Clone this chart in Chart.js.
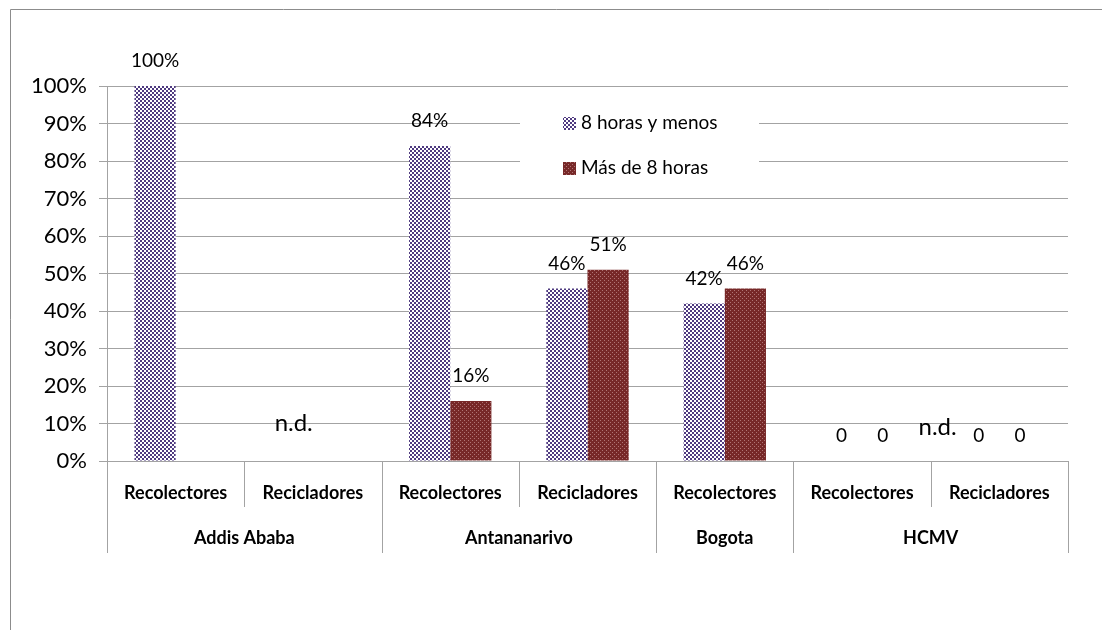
<!DOCTYPE html>
<html>
<head>
<meta charset="utf-8">
<script src="https://cdn.jsdelivr.net/npm/chart.js@4.4.0/dist/chart.umd.min.js"></script>
<style>
  body { margin: 0; background: #fff; }
  canvas { display: block; }
</style>
</head>
<body>
<canvas id="myChart" width="1102" height="630"></canvas>
<script>
var categories = ['Recolectores', 'Recicladores', 'Recolectores', 'Recicladores', 'Recolectores', 'Recolectores', 'Recicladores'];
var groups = ['Addis Ababa', 'Antananarivo', 'Bogota', 'HCMV'];
var groupSizes = [2, 2, 1, 2];

var seriesNames = ['8 horas y menos', 'Más de 8 horas'];
var menos8 = [100, null, 84, 46, 42, 0, 0];
var mas8 = [null, null, 16, 51, 46, 0, 0];

var yTicks = [0, 10, 20, 30, 40, 50, 60, 70, 80, 90, 100];

// "n.d." notes: where on the category axis and at which value
var noteTexts = ['n.d.', 'n.d.'];
var noteCats = [0.86, 5.55];
var noteValues = [10, 9];

var FONT = 'Lato, "DejaVu Sans", sans-serif';
var GRID = '#a3a3a3';

function makePattern(bg, fg, cells) {
    var c = document.createElement('canvas');
    c.width = 4;
    c.height = 4;
    var g = c.getContext('2d');
    g.fillStyle = bg;
    g.fillRect(0, 0, 4, 4);
    g.fillStyle = fg;
    for (var i = 0; i < cells.length; i++) {
        g.fillRect(cells[i][0], cells[i][1], cells[i][2], cells[i][2]);
    }
    return document.getElementById('myChart').getContext('2d').createPattern(c, 'repeat');
}

var purpleCheck = makePattern('#ffffff', '#4f3a80', [[0, 0, 2], [2, 2, 2]]);
var redDots = makePattern('#772828', '#b07474', [[0, 0, 1], [2, 2, 1]]);
var fills = [purpleCheck, redDots];

var extras = {
    id: 'extras',
    beforeDraw: function (chart) {
        var ctx = chart.ctx;
        ctx.save();
        ctx.strokeStyle = '#8c8c8c';
        ctx.lineWidth = 1;
        ctx.beginPath();
        ctx.moveTo(10.5, 630);
        ctx.lineTo(10.5, 9.5);
        ctx.lineTo(1102, 9.5);
        ctx.stroke();
        ctx.restore();
    },
    afterDatasetsDraw: function (chart) {
        var ctx = chart.ctx;
        var x = chart.scales.x;
        var y = chart.scales.y;
        var bottom = chart.chartArea.bottom;
        ctx.save();

        // category dividers under the axis
        ctx.strokeStyle = GRID;
        ctx.lineWidth = 1;
        var groupEdges = [0];
        var acc = 0;
        for (var g = 0; g < groupSizes.length; g++) {
            acc += groupSizes[g];
            groupEdges.push(acc);
        }
        for (var i = 0; i <= categories.length; i++) {
            var px = Math.round(x.getPixelForValue(i - 0.5)) + 0.5;
            var long = groupEdges.indexOf(i) >= 0;
            ctx.beginPath();
            ctx.moveTo(px, bottom);
            ctx.lineTo(px, bottom + (long ? 92 : 46));
            ctx.stroke();
        }

        // group labels
        ctx.fillStyle = '#000';
        ctx.font = 'bold 18px ' + FONT;
        ctx.textAlign = 'center';
        ctx.textBaseline = 'middle';
        for (var k = 0; k < groups.length; k++) {
            var mid = (groupEdges[k] + groupEdges[k + 1]) / 2 - 0.5;
            ctx.fillText(groups[k], x.getPixelForValue(mid), bottom + 77);
        }

        // data labels
        ctx.font = '19px ' + FONT;
        chart.data.datasets.forEach(function (ds, di) {
            var meta = chart.getDatasetMeta(di);
            meta.data.forEach(function (bar, j) {
                var v = ds.data[j];
                if (v === null) return;
                var txt = v === 0 ? '0' : v + '%';
                ctx.fillText(txt, bar.x, bar.y - 25);
            });
        });

        // n.d. notes
        ctx.font = '24px ' + FONT;
        for (var n = 0; n < noteTexts.length; n++) {
            ctx.fillText(noteTexts[n], x.getPixelForValue(noteCats[n]), y.getPixelForValue(noteValues[n]));
        }

        // legend inside the plot
        ctx.fillStyle = '#fff';
        ctx.fillRect(520, 100, 239, 88);
        ctx.font = '19px ' + FONT;
        ctx.textAlign = 'left';
        for (var s = 0; s < seriesNames.length; s++) {
            var cy = 123 + s * 45;
            ctx.fillStyle = fills[s];
            ctx.fillRect(563, cy - 6, 13, 13);
            ctx.fillStyle = '#000';
            ctx.fillText(seriesNames[s], 581, cy);
        }
        ctx.restore();
    }
};

var ctx = document.getElementById('myChart').getContext('2d');
var chart = new Chart(ctx, {
    type: 'bar',
    data: {
        labels: categories,
        datasets: [{
            label: seriesNames[0],
            data: menos8,
            backgroundColor: purpleCheck,
            borderWidth: 0
        }, {
            label: seriesNames[1],
            data: mas8,
            backgroundColor: redDots,
            borderWidth: 0
        }]
    },
    options: {
        responsive: false,
        devicePixelRatio: 1,
        animation: false,
        categoryPercentage: 0.6,
        barPercentage: 1.0,
        layout: {
            padding: { left: 10, top: 86, right: 34, bottom: 77 }
        },
        plugins: {
            legend: { display: false },
            tooltip: { enabled: false }
        },
        scales: {
            x: {
                grid: { display: false, drawTicks: false },
                border: { display: false },
                ticks: {
                    color: '#000',
                    font: { family: FONT, size: 18, weight: 'bold' },
                    padding: 21,
                    maxRotation: 0,
                    autoSkip: false
                },
                afterFit: function (scale) { scale.height = 92; }
            },
            y: {
                min: 0,
                max: 100,
                afterBuildTicks: function (scale) {
                    scale.ticks = yTicks.map(function (v) { return { value: v }; });
                },
                grid: { color: GRID, tickLength: 8 },
                border: { color: GRID },
                ticks: {
                    color: '#000',
                    font: { family: FONT, size: 22 },
                    padding: 12,
                    callback: function (v) { return v + '%'; }
                },
                afterFit: function (scale) { scale.width = 97; }
            }
        }
    },
    plugins: [extras]
});
</script>
</body>
</html>
